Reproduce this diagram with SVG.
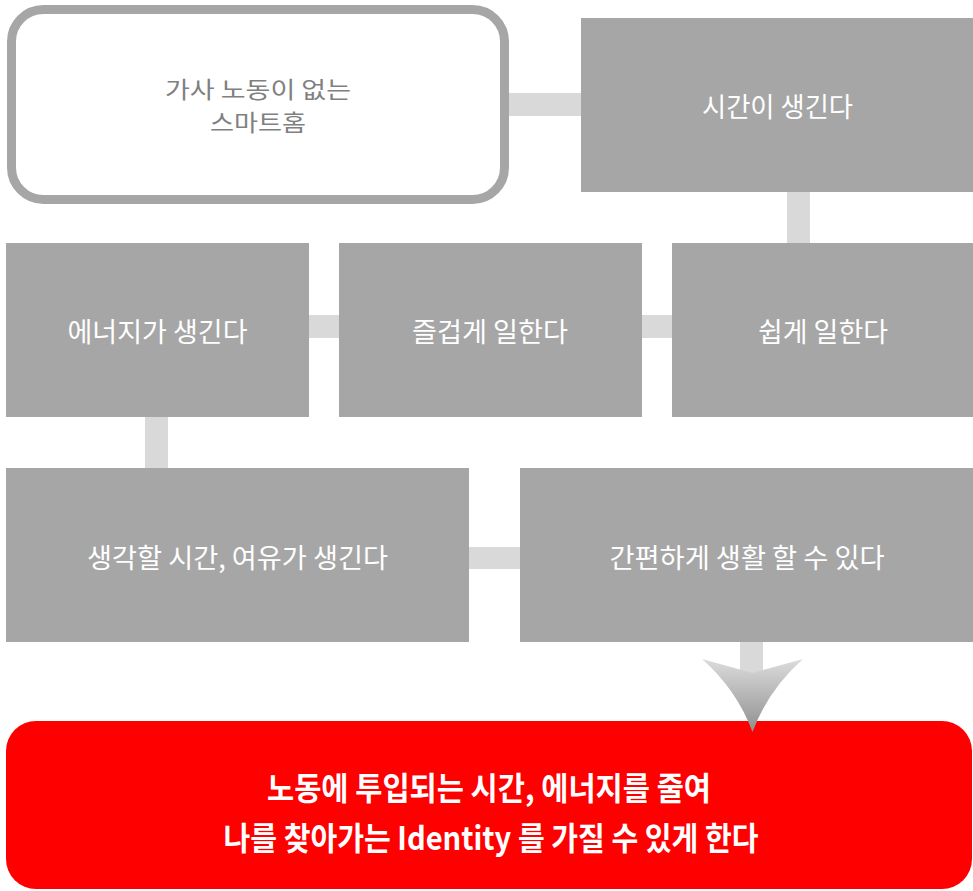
<svg xmlns="http://www.w3.org/2000/svg" width="973" height="891" viewBox="0 0 973 891">
  <defs>
    <linearGradient id="arrowGrad" x1="0" y1="0" x2="0" y2="1">
      <stop offset="0" stop-color="#dcdcdc"/>
      <stop offset="1" stop-color="#8f8f8f"/>
    </linearGradient>
    <style>
      .box { fill: #a6a6a6; }
      .conn { fill: #d9d9d9; }
      .lbl { font-family: "Noto Sans CJK KR", "Noto Sans", sans-serif; font-size: 27px; fill: #ffffff; text-anchor: middle; }
      .lblA { font-family: "Noto Sans CJK KR", "Noto Sans", sans-serif; font-size: 23px; fill: #808080; text-anchor: middle; }
      .lblR { font-family: "Noto Sans CJK KR", "Noto Sans", sans-serif; font-size: 32px; font-weight: bold; fill: #ffffff; text-anchor: middle; }
    </style>
  </defs>
  <rect width="973" height="891" fill="#ffffff"/>

  <g id="node-smarthome">
    <rect x="11.5" y="9.5" width="493" height="190" rx="32" ry="32" fill="#ffffff" stroke="#a6a6a6" stroke-width="9"/>
    <text class="lblA" x="258" y="98" textLength="186" lengthAdjust="spacingAndGlyphs">가사 노동이 없는</text>
    <text class="lblA" x="258" y="131" textLength="96" lengthAdjust="spacingAndGlyphs">스마트홈</text>
  </g>

  <g id="node-time">
    <rect class="box" x="581" y="18" width="392" height="174"/>
    <text class="lbl" x="777.5" y="117" textLength="151" lengthAdjust="spacingAndGlyphs">시간이 생긴다</text>
  </g>

  <g id="node-energy">
    <rect class="box" x="6" y="243" width="303" height="174"/>
    <text class="lbl" x="157.5" y="342" textLength="180" lengthAdjust="spacingAndGlyphs">에너지가 생긴다</text>
  </g>

  <g id="node-fun">
    <rect class="box" x="339" y="243" width="303" height="174"/>
    <text class="lbl" x="490" y="342" textLength="156" lengthAdjust="spacingAndGlyphs">즐겁게 일한다</text>
  </g>

  <g id="node-easy">
    <rect class="box" x="672" y="243" width="301" height="174"/>
    <text class="lbl" x="823" y="342" textLength="130" lengthAdjust="spacingAndGlyphs">쉽게 일한다</text>
  </g>

  <g id="node-think">
    <rect class="box" x="6" y="468" width="463" height="174"/>
    <text class="lbl" x="237.5" y="568" textLength="301" lengthAdjust="spacingAndGlyphs">생각할 시간, 여유가 생긴다</text>
  </g>

  <g id="node-simple">
    <rect class="box" x="520" y="468" width="453" height="174"/>
    <text class="lbl" x="747" y="568" textLength="275" lengthAdjust="spacingAndGlyphs">간편하게 생활 할 수 있다</text>
  </g>

  <g id="node-result">
    <rect x="6" y="721" width="966" height="168" rx="30" ry="30" fill="#ff0000"/>
    <text class="lblR" x="489" y="800" textLength="444" lengthAdjust="spacingAndGlyphs">노동에 투입되는 시간, 에너지를 줄여</text>
    <text class="lblR" x="491" y="850" textLength="535" lengthAdjust="spacingAndGlyphs">나를 찾아가는 Identity 를 가질 수 있게 한다</text>
  </g>

  <g id="connectors">
    <rect class="conn" x="509" y="93" width="72" height="23"/>
    <rect class="conn" x="787" y="192" width="23" height="51"/>
    <rect class="conn" x="309" y="315" width="30" height="23"/>
    <rect class="conn" x="642" y="315" width="30" height="23"/>
    <rect class="conn" x="145" y="417" width="23" height="51"/>
    <rect class="conn" x="469" y="547" width="51" height="22"/>
    <rect class="conn" x="740" y="642" width="23" height="34"/>
    <path d="M702,659 L752.5,673 L803,659 Q768,690 752.5,732 Q737,690 702,659 Z" fill="url(#arrowGrad)"/>
  </g>
</svg>
